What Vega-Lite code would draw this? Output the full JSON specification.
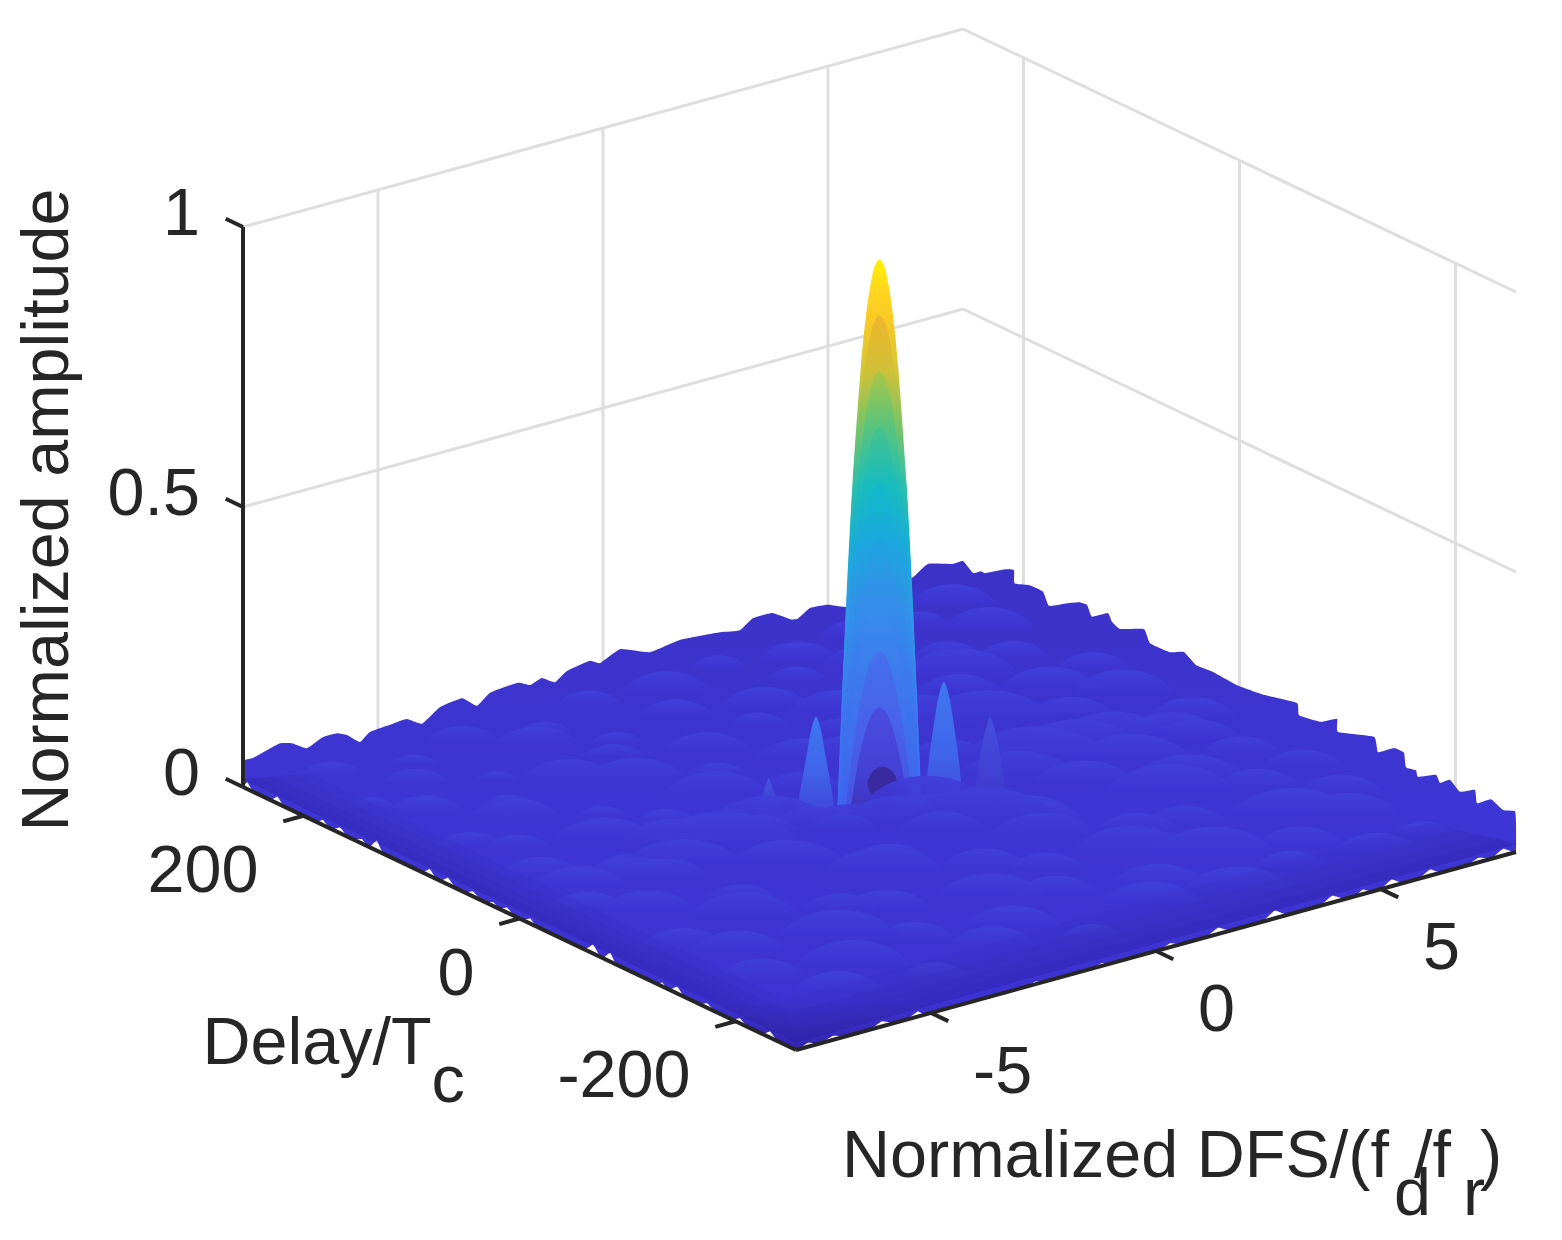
{"$schema":"https://vega.github.io/schema/vega-lite/v6.json","width":1562,"height":1240,"autosize":"none","padding":0,"background":"white","config":{"view":{"stroke":null},"text":{"font":"Liberation Sans","fontSize":66.5,"color":"#262626"}},
"data":{"values":[
{"k":"w","g":"z1","d":256,"f":-8,"a":1},{"k":"w","g":"z1","d":256,"f":8,"a":1},{"k":"w","g":"z1","d":-256,"f":8,"a":1},
{"k":"w","g":"z5","d":256,"f":-8,"a":0.5},{"k":"w","g":"z5","d":256,"f":8,"a":0.5},{"k":"w","g":"z5","d":-256,"f":8,"a":0.5},
{"k":"w","g":"f-5","d":256,"f":-5,"a":0},{"k":"w","g":"f-5","d":256,"f":-5,"a":1},{"k":"w","g":"f0","d":256,"f":0,"a":0},{"k":"w","g":"f0","d":256,"f":0,"a":1},{"k":"w","g":"f5","d":256,"f":5,"a":0},{"k":"w","g":"f5","d":256,"f":5,"a":1},
{"k":"w","g":"d200","d":200,"f":8,"a":0},{"k":"w","g":"d200","d":200,"f":8,"a":1},{"k":"w","g":"d0","d":0,"f":8,"a":0},{"k":"w","g":"d0","d":0,"f":8,"a":1},{"k":"w","g":"d-200","d":-200,"f":8,"a":0},{"k":"w","g":"d-200","d":-200,"f":8,"a":1},

{"k":"o","d":256,"f":-8,"a":0.048},{"k":"o","d":256,"f":-7.78,"a":0.047},{"k":"o","d":256,"f":-7.47,"a":0.054},{"k":"o","d":256,"f":-7.18,"a":0.06},{"k":"o","d":256,"f":-6.91,"a":0.054},{"k":"o","d":256,"f":-6.58,"a":0.038},{"k":"o","d":256,"f":-6.22,"a":0.05},{"k":"o","d":256,"f":-5.91,"a":0.05},{"k":"o","d":256,"f":-5.69,"a":0.042},{"k":"o","d":256,"f":-5.4,"a":0.023},{"k":"o","d":256,"f":-5.18,"a":0.036},{"k":"o","d":256,"f":-4.73,"a":0.039},{"k":"o","d":256,"f":-4.36,"a":0.041},{"k":"o","d":256,"f":-4.02,"a":0.025},{"k":"o","d":256,"f":-3.62,"a":0.046},{"k":"o","d":256,"f":-3.13,"a":0.051},{"k":"o","d":256,"f":-2.8,"a":0.03},{"k":"o","d":256,"f":-2.51,"a":0.047},{"k":"o","d":256,"f":-1.89,"a":0.051},{"k":"o","d":256,"f":-1.62,"a":0.041},{"k":"o","d":256,"f":-1.36,"a":0.048},{"k":"o","d":256,"f":-1.07,"a":0.034},{"k":"o","d":256,"f":-0.8,"a":0.048},{"k":"o","d":256,"f":-0.29,"a":0.055},{"k":"o","d":256,"f":-0.07,"a":0.046},{"k":"o","d":256,"f":0.38,"a":0.061},{"k":"o","d":256,"f":1.04,"a":0.041},{"k":"o","d":256,"f":1.71,"a":0.048},{"k":"o","d":256,"f":2.6,"a":0.042},{"k":"o","d":256,"f":3.04,"a":0.036},{"k":"o","d":256,"f":3.33,"a":0.051},{"k":"o","d":256,"f":3.76,"a":0.051},{"k":"o","d":256,"f":4.16,"a":0.031},{"k":"o","d":256,"f":4.33,"a":0.028},{"k":"o","d":256,"f":4.6,"a":0.041},{"k":"o","d":256,"f":5,"a":0.038},{"k":"o","d":256,"f":5.42,"a":0.025},{"k":"o","d":256,"f":6.16,"a":0.03},{"k":"o","d":256,"f":6.87,"a":0.045},{"k":"o","d":256,"f":7.22,"a":0.062},{"k":"o","d":256,"f":7.76,"a":0.05},{"k":"o","d":256,"f":8,"a":0.05},
{"k":"o","d":246.7,"f":8,"a":0.037},{"k":"o","d":239.3,"f":8,"a":0.047},{"k":"o","d":235.6,"f":8,"a":0.047},{"k":"o","d":217.1,"f":8,"a":0.071},{"k":"o","d":208.8,"f":8,"a":0.077},{"k":"o","d":208.3,"f":8,"a":0.054},{"k":"o","d":194.9,"f":8,"a":0.063},{"k":"o","d":181.9,"f":8,"a":0.063},{"k":"o","d":176.4,"f":8,"a":0.043},{"k":"o","d":159.7,"f":8,"a":0.063},{"k":"o","d":148.6,"f":8,"a":0.075},{"k":"o","d":141.2,"f":8,"a":0.077},{"k":"o","d":136.6,"f":8,"a":0.06},{"k":"o","d":121.8,"f":8,"a":0.08},{"k":"o","d":118.1,"f":8,"a":0.068},{"k":"o","d":110.6,"f":8,"a":0.062},{"k":"o","d":88.4,"f":8,"a":0.082},{"k":"o","d":82.9,"f":8,"a":0.062},{"k":"o","d":64.4,"f":8,"a":0.063},{"k":"o","d":51.4,"f":8,"a":0.075},{"k":"o","d":40.3,"f":8,"a":0.062},{"k":"o","d":24.5,"f":8,"a":0.064},{"k":"o","d":2.3,"f":8,"a":0.061},{"k":"o","d":-23.6,"f":8,"a":0.067},{"k":"o","d":-53.2,"f":8,"a":0.08},{"k":"o","d":-55.1,"f":8,"a":0.06},{"k":"o","d":-75.4,"f":8,"a":0.067},{"k":"o","d":-90.3,"f":8,"a":0.086},{"k":"o","d":-91.2,"f":8,"a":0.063},{"k":"o","d":-124.5,"f":8,"a":0.085},{"k":"o","d":-128.2,"f":8,"a":0.061},{"k":"o","d":-143,"f":8,"a":0.082},{"k":"o","d":-152.3,"f":8,"a":0.082},{"k":"o","d":-154.1,"f":8,"a":0.058},{"k":"o","d":-163.4,"f":8,"a":0.061},{"k":"o","d":-165.3,"f":8,"a":0.051},{"k":"o","d":-181.9,"f":8,"a":0.07},{"k":"o","d":-185.6,"f":8,"a":0.059},{"k":"o","d":-194.9,"f":8,"a":0.073},{"k":"o","d":-204.1,"f":8,"a":0.06},{"k":"o","d":-218,"f":8,"a":0.076},{"k":"o","d":-219.9,"f":8,"a":0.054},{"k":"o","d":-232.8,"f":8,"a":0.073},{"k":"o","d":-244,"f":8,"a":0.064},{"k":"o","d":-255,"f":8,"a":0.072},{"k":"o","d":-256,"f":8,"a":0.052},
{"k":"o","d":-256,"f":8,"a":0.004},{"k":"o","d":-256,"f":7.93,"a":0.002},{"k":"o","d":-256,"f":7.71,"a":0.012},{"k":"o","d":-256,"f":7.49,"a":0.002},{"k":"o","d":-256,"f":7.38,"a":0.002},{"k":"o","d":-256,"f":7.16,"a":0.008},{"k":"o","d":-256,"f":6.94,"a":0.002},{"k":"o","d":-256,"f":6.31,"a":0.002},{"k":"o","d":-256,"f":6.09,"a":0.011},{"k":"o","d":-256,"f":5.87,"a":0.002},{"k":"o","d":-256,"f":5.46,"a":0.002},{"k":"o","d":-256,"f":5.24,"a":0.012},{"k":"o","d":-256,"f":5.02,"a":0.002},{"k":"o","d":-256,"f":4.75,"a":0.002},{"k":"o","d":-256,"f":4.6,"a":0.008},{"k":"o","d":-256,"f":4.45,"a":0.002},{"k":"o","d":-256,"f":4.16,"a":0.002},{"k":"o","d":-256,"f":3.91,"a":0.012},{"k":"o","d":-256,"f":3.66,"a":0.002},{"k":"o","d":-256,"f":2.9,"a":0.002},{"k":"o","d":-256,"f":2.64,"a":0.014},{"k":"o","d":-256,"f":2.38,"a":0.002},{"k":"o","d":-256,"f":1.63,"a":0.002},{"k":"o","d":-256,"f":1.38,"a":0.011},{"k":"o","d":-256,"f":1.13,"a":0.002},{"k":"o","d":-256,"f":0.5,"a":0.002},{"k":"o","d":-256,"f":0.31,"a":0.007},{"k":"o","d":-256,"f":0.12,"a":0.002},{"k":"o","d":-256,"f":-1,"a":0.002},{"k":"o","d":-256,"f":-1.2,"a":0.005},{"k":"o","d":-256,"f":-1.4,"a":0.002},{"k":"o","d":-256,"f":-2.5,"a":0.002},{"k":"o","d":-256,"f":-2.7,"a":0.005},{"k":"o","d":-256,"f":-2.9,"a":0.002},{"k":"o","d":-256,"f":-5.07,"a":0.002},{"k":"o","d":-256,"f":-5.29,"a":0.009},{"k":"o","d":-256,"f":-5.51,"a":0.002},{"k":"o","d":-256,"f":-5.87,"a":0.002},{"k":"o","d":-256,"f":-6.09,"a":0.009},{"k":"o","d":-256,"f":-6.31,"a":0.002},{"k":"o","d":-256,"f":-6.96,"a":0.002},{"k":"o","d":-256,"f":-7.18,"a":0.007},{"k":"o","d":-256,"f":-7.4,"a":0.002},{"k":"o","d":-256,"f":-7.55,"a":0.002},{"k":"o","d":-256,"f":-7.73,"a":0.007},{"k":"o","d":-256,"f":-7.9,"a":0.002},{"k":"o","d":-256,"f":-8,"a":0},
{"k":"o","d":-238,"f":-8,"a":0.002},{"k":"o","d":-232,"f":-8,"a":0.011},{"k":"o","d":-226,"f":-8,"a":0.002},{"k":"o","d":-210,"f":-8,"a":0.002},{"k":"o","d":-204,"f":-8,"a":0.009},{"k":"o","d":-198,"f":-8,"a":0.002},{"k":"o","d":-180,"f":-8,"a":0.002},{"k":"o","d":-174,"f":-8,"a":0.008},{"k":"o","d":-168,"f":-8,"a":0.002},{"k":"o","d":-152,"f":-8,"a":0.002},{"k":"o","d":-146,"f":-8,"a":0.012},{"k":"o","d":-140,"f":-8,"a":0.002},{"k":"o","d":-136,"f":-8,"a":0.002},{"k":"o","d":-132,"f":-8,"a":0.007},{"k":"o","d":-128,"f":-8,"a":0.002},{"k":"o","d":-90,"f":-8,"a":0.002},{"k":"o","d":-84,"f":-8,"a":0.016},{"k":"o","d":-78,"f":-8,"a":0.002},{"k":"o","d":-74,"f":-8,"a":0.002},{"k":"o","d":-68,"f":-8,"a":0.016},{"k":"o","d":-60,"f":-8,"a":0.002},{"k":"o","d":-16,"f":-8,"a":0.002},{"k":"o","d":-10,"f":-8,"a":0.009},{"k":"o","d":-4,"f":-8,"a":0.002},{"k":"o","d":6,"f":-8,"a":0.002},{"k":"o","d":11.6,"f":-8,"a":0.009},{"k":"o","d":17,"f":-8,"a":0.002},{"k":"o","d":20,"f":-8,"a":0.002},{"k":"o","d":24.5,"f":-8,"a":0.007},{"k":"o","d":30,"f":-8,"a":0.002},{"k":"o","d":37,"f":-8,"a":0.002},{"k":"o","d":43,"f":-8,"a":0.009},{"k":"o","d":49,"f":-8,"a":0.002},{"k":"o","d":60,"f":-8,"a":0.002},{"k":"o","d":66,"f":-8,"a":0.012},{"k":"o","d":72,"f":-8,"a":0.002},{"k":"o","d":78,"f":-8,"a":0.002},{"k":"o","d":83,"f":-8,"a":0.012},{"k":"o","d":90,"f":-8,"a":0.002},{"k":"o","d":126,"f":-8,"a":0.002},{"k":"o","d":132,"f":-8,"a":0.018},{"k":"o","d":138,"f":-8,"a":0.002},{"k":"o","d":142,"f":-8,"a":0.002},{"k":"o","d":146,"f":-8,"a":0.008},{"k":"o","d":152,"f":-8,"a":0.002},{"k":"o","d":160,"f":-8,"a":0.002},{"k":"o","d":166,"f":-8,"a":0.01},{"k":"o","d":172,"f":-8,"a":0.002},{"k":"o","d":177,"f":-8,"a":0.002},{"k":"o","d":182,"f":-8,"a":0.009},{"k":"o","d":188,"f":-8,"a":0.002},{"k":"o","d":218,"f":-8,"a":0.002},{"k":"o","d":224,"f":-8,"a":0.012},{"k":"o","d":230,"f":-8,"a":0.002},{"k":"o","d":247,"f":-8,"a":0.002},{"k":"o","d":252,"f":-8,"a":0.012},{"k":"o","d":256,"f":-8,"a":0},

{"k":"b","d":232,"f":-6.6,"a":0.036},{"k":"b","d":219,"f":-5.1,"a":0.028},{"k":"b","d":228,"f":-3.8,"a":0.042},{"k":"b","d":213,"f":-2.3,"a":0.03},{"k":"b","d":231,"f":-0.9,"a":0.038},{"k":"b","d":222,"f":0.6,"a":0.048},{"k":"b","d":236,"f":2.1,"a":0.03},{"k":"b","d":216,"f":3.4,"a":0.044},{"k":"b","d":229,"f":4.9,"a":0.036},{"k":"b","d":220,"f":6.2,"a":0.032},{"k":"b","d":232,"f":7.2,"a":0.048},
{"k":"b","d":179,"f":-7,"a":0.03},{"k":"b","d":192,"f":-5.7,"a":0.04},{"k":"b","d":171,"f":-4.4,"a":0.026},{"k":"b","d":196,"f":-2.9,"a":0.05},{"k":"b","d":176,"f":-1.6,"a":0.03},{"k":"b","d":188,"f":0,"a":0.042},{"k":"b","d":168,"f":1.5,"a":0.05},{"k":"b","d":193,"f":2.8,"a":0.034},{"k":"b","d":180,"f":4.2,"a":0.058},{"k":"b","d":170,"f":5.6,"a":0.038},{"k":"b","d":190,"f":7,"a":0.05},
{"k":"b","d":153,"f":-6.4,"a":0.044},{"k":"b","d":136,"f":-5,"a":0.03},{"k":"b","d":141,"f":-3.5,"a":0.056},{"k":"b","d":158,"f":-2.1,"a":0.036},{"k":"b","d":130,"f":-0.7,"a":0.052},{"k":"b","d":149,"f":0.9,"a":0.034},{"k":"b","d":132,"f":2.3,"a":0.06},{"k":"b","d":155,"f":3.7,"a":0.036},{"k":"b","d":138,"f":5.1,"a":0.066},{"k":"b","d":147,"f":6.5,"a":0.04},
{"k":"b","d":96,"f":-6.8,"a":0.04},{"k":"b","d":112,"f":-5.4,"a":0.054},{"k":"b","d":90,"f":-4,"a":0.03},{"k":"b","d":117,"f":-2.6,"a":0.06},{"k":"b","d":100,"f":-1.2,"a":0.036},{"k":"b","d":86,"f":0.4,"a":0.058},{"k":"b","d":110,"f":1.8,"a":0.04},{"k":"b","d":95,"f":3.2,"a":0.066},{"k":"b","d":118,"f":4.6,"a":0.05},{"k":"b","d":92,"f":6,"a":0.056},{"k":"b","d":106,"f":7.3,"a":0.04},
{"k":"b","d":76,"f":-6.2,"a":0.04},{"k":"b","d":54,"f":-4.8,"a":0.06},{"k":"b","d":60,"f":-3.3,"a":0.036},{"k":"b","d":72,"f":-1.9,"a":0.062},{"k":"b","d":50,"f":-0.5,"a":0.05},{"k":"b","d":68,"f":1,"a":0.066},{"k":"b","d":44,"f":2.6,"a":0.046},{"k":"b","d":70,"f":4.1,"a":0.076},{"k":"b","d":52,"f":5.5,"a":0.05},{"k":"b","d":62,"f":6.9,"a":0.058},
{"k":"b","d":34,"f":-6.7,"a":0.05},{"k":"b","d":18,"f":-5.2,"a":0.036},{"k":"b","d":28,"f":-3.9,"a":0.062},{"k":"b","d":12,"f":-2.4,"a":0.05},{"k":"b","d":0,"f":3.47,"a":0.09},{"k":"b","d":0,"f":-3.47,"a":0.09},{"k":"b","d":4,"f":4.5,"a":0.076},{"k":"b","d":-6,"f":-4.5,"a":0.07},{"k":"b","d":8,"f":5.4,"a":0.066},{"k":"b","d":-4,"f":-5.6,"a":0.06},{"k":"b","d":-8,"f":6.3,"a":0.06},{"k":"b","d":6,"f":-6.5,"a":0.055},{"k":"b","d":10,"f":7.2,"a":0.05},
{"k":"b","d":-22,"f":-7,"a":0.046},{"k":"b","d":-10,"f":-5,"a":0.05},{"k":"b","d":-27,"f":-2.8,"a":0.05},{"k":"b","d":-8,"f":-1,"a":0.04},{"k":"b","d":-24,"f":1.2,"a":0.046},{"k":"b","d":-12,"f":2.8,"a":0.072},{"k":"b","d":-30,"f":4.9,"a":0.072},{"k":"b","d":-18,"f":6.6,"a":0.05},
{"k":"b","d":-48,"f":-6.3,"a":0.056},{"k":"b","d":-64,"f":-4.6,"a":0.044},{"k":"b","d":-42,"f":-3,"a":0.068},{"k":"b","d":-68,"f":-1.4,"a":0.05},{"k":"b","d":-46,"f":0.3,"a":0.05},{"k":"b","d":-60,"f":1.9,"a":0.056},{"k":"b","d":-40,"f":3.6,"a":0.062},{"k":"b","d":-70,"f":5.2,"a":0.066},{"k":"b","d":-52,"f":6.8,"a":0.046},
{"k":"b","d":-102,"f":-6.8,"a":0.05},{"k":"b","d":-88,"f":-5.1,"a":0.064},{"k":"b","d":-110,"f":-3.5,"a":0.046},{"k":"b","d":-84,"f":-1.9,"a":0.07},{"k":"b","d":-106,"f":-0.2,"a":0.05},{"k":"b","d":-90,"f":1.5,"a":0.062},{"k":"b","d":-114,"f":3,"a":0.05},{"k":"b","d":-82,"f":4.5,"a":0.076},{"k":"b","d":-100,"f":6,"a":0.05},{"k":"b","d":-92,"f":7.2,"a":0.05},
{"k":"b","d":-128,"f":-6.2,"a":0.056},{"k":"b","d":-146,"f":-4.4,"a":0.07},{"k":"b","d":-124,"f":-2.8,"a":0.05},{"k":"b","d":-150,"f":-1.1,"a":0.066},{"k":"b","d":-130,"f":0.6,"a":0.046},{"k":"b","d":-142,"f":2.2,"a":0.07},{"k":"b","d":-122,"f":3.9,"a":0.05},{"k":"b","d":-154,"f":5.5,"a":0.076},{"k":"b","d":-136,"f":7,"a":0.05},
{"k":"b","d":-166,"f":-6.6,"a":0.05},{"k":"b","d":-184,"f":-5,"a":0.064},{"k":"b","d":-170,"f":-3.3,"a":0.046},{"k":"b","d":-190,"f":-1.6,"a":0.056},{"k":"b","d":-164,"f":0,"a":0.05},{"k":"b","d":-188,"f":1.7,"a":0.056},{"k":"b","d":-172,"f":3.3,"a":0.072},{"k":"b","d":-186,"f":4.9,"a":0.05},{"k":"b","d":-168,"f":6.4,"a":0.06},
{"k":"b","d":-208,"f":-5.9,"a":0.05},{"k":"b","d":-222,"f":-4.1,"a":0.04},{"k":"b","d":-205,"f":-2.4,"a":0.05},{"k":"b","d":-226,"f":-0.7,"a":0.036},{"k":"b","d":-210,"f":1,"a":0.06},{"k":"b","d":-224,"f":2.6,"a":0.064},{"k":"b","d":-206,"f":4.2,"a":0.04},{"k":"b","d":-220,"f":5.8,"a":0.05},{"k":"b","d":-212,"f":7,"a":0.036},
{"k":"b","d":18.2,"f":-2,"a":0.07},{"k":"b","d":2.9,"f":-1.37,"a":0.05},{"k":"b","d":-9,"f":-0.87,"a":0.055},{"k":"b","d":-26,"f":-0.17,"a":0.07},{"k":"b","d":-41,"f":0.46,"a":0.075},{"k":"b","d":-55,"f":1.03,"a":0.085},{"k":"b","d":-70,"f":1.66,"a":0.065},{"k":"b","d":-10.6,"f":0.8,"a":0.07},

{"k":"p10","d":14.45,"f":-0.6,"a":0},{"k":"p10","d":14.08,"f":-0.584,"a":0.05},{"k":"p10","d":12.89,"f":-0.535,"a":0.2},{"k":"p10","d":11.2,"f":-0.465,"a":0.4},{"k":"p10","d":9.16,"f":-0.38,"a":0.6},{"k":"p10","d":6.45,"f":-0.268,"a":0.8},{"k":"p10","d":4.58,"f":-0.19,"a":0.9},{"k":"p10","d":2.88,"f":-0.12,"a":0.96},{"k":"p10","d":1.46,"f":-0.061,"a":0.99},{"k":"p10","d":0,"f":0,"a":1},{"k":"p10","d":-1.46,"f":0.061,"a":0.99},{"k":"p10","d":-2.88,"f":0.12,"a":0.96},{"k":"p10","d":-4.58,"f":0.19,"a":0.9},{"k":"p10","d":-6.45,"f":0.268,"a":0.8},{"k":"p10","d":-9.16,"f":0.38,"a":0.6},{"k":"p10","d":-11.2,"f":0.465,"a":0.4},{"k":"p10","d":-12.89,"f":0.535,"a":0.2},{"k":"p10","d":-14.08,"f":0.584,"a":0.05},{"k":"p10","d":-14.45,"f":0.6,"a":0},
{"k":"p9","d":14.35,"f":-0.596,"a":0},{"k":"p9","d":13.98,"f":-0.58,"a":0.05},{"k":"p9","d":12.83,"f":-0.532,"a":0.2},{"k":"p9","d":11.03,"f":-0.458,"a":0.4},{"k":"p9","d":9.03,"f":-0.375,"a":0.6},{"k":"p9","d":7.36,"f":-0.306,"a":0.7},{"k":"p9","d":5.19,"f":-0.215,"a":0.8},{"k":"p9","d":3.29,"f":-0.137,"a":0.86},{"k":"p9","d":1.65,"f":-0.068,"a":0.89},{"k":"p9","d":0,"f":0,"a":0.9},{"k":"p9","d":-1.65,"f":0.068,"a":0.89},{"k":"p9","d":-3.29,"f":0.137,"a":0.86},{"k":"p9","d":-5.19,"f":0.215,"a":0.8},{"k":"p9","d":-7.36,"f":0.306,"a":0.7},{"k":"p9","d":-9.03,"f":0.375,"a":0.6},{"k":"p9","d":-11.03,"f":0.458,"a":0.4},{"k":"p9","d":-12.83,"f":0.532,"a":0.2},{"k":"p9","d":-13.98,"f":0.58,"a":0.05},{"k":"p9","d":-14.35,"f":0.596,"a":0},
{"k":"p8","d":14.25,"f":-0.592,"a":0},{"k":"p8","d":13.91,"f":-0.577,"a":0.05},{"k":"p8","d":12.72,"f":-0.528,"a":0.2},{"k":"p8","d":11.91,"f":-0.494,"a":0.3},{"k":"p8","d":10.65,"f":-0.442,"a":0.4},{"k":"p8","d":9.23,"f":-0.383,"a":0.5},{"k":"p8","d":7.53,"f":-0.313,"a":0.6},{"k":"p8","d":5.33,"f":-0.221,"a":0.7},{"k":"p8","d":3.36,"f":-0.139,"a":0.76},{"k":"p8","d":1.7,"f":-0.07,"a":0.79},{"k":"p8","d":0,"f":0,"a":0.8},{"k":"p8","d":-1.7,"f":0.07,"a":0.79},{"k":"p8","d":-3.36,"f":0.139,"a":0.76},{"k":"p8","d":-5.33,"f":0.221,"a":0.7},{"k":"p8","d":-7.53,"f":0.313,"a":0.6},{"k":"p8","d":-9.23,"f":0.383,"a":0.5},{"k":"p8","d":-10.65,"f":0.442,"a":0.4},{"k":"p8","d":-11.91,"f":0.494,"a":0.3},{"k":"p8","d":-12.72,"f":0.528,"a":0.2},{"k":"p8","d":-13.91,"f":0.577,"a":0.05},{"k":"p8","d":-14.25,"f":0.592,"a":0},
{"k":"p7","d":14.18,"f":-0.589,"a":0},{"k":"p7","d":13.84,"f":-0.575,"a":0.05},{"k":"p7","d":12.49,"f":-0.518,"a":0.2},{"k":"p7","d":11.16,"f":-0.463,"a":0.3},{"k":"p7","d":9.67,"f":-0.401,"a":0.4},{"k":"p7","d":7.91,"f":-0.328,"a":0.5},{"k":"p7","d":5.56,"f":-0.231,"a":0.6},{"k":"p7","d":3.53,"f":-0.146,"a":0.66},{"k":"p7","d":1.76,"f":-0.073,"a":0.69},{"k":"p7","d":0,"f":0,"a":0.7},{"k":"p7","d":-1.76,"f":0.073,"a":0.69},{"k":"p7","d":-3.53,"f":0.146,"a":0.66},{"k":"p7","d":-5.56,"f":0.231,"a":0.6},{"k":"p7","d":-7.91,"f":0.328,"a":0.5},{"k":"p7","d":-9.67,"f":0.401,"a":0.4},{"k":"p7","d":-11.16,"f":0.463,"a":0.3},{"k":"p7","d":-12.49,"f":0.518,"a":0.2},{"k":"p7","d":-13.84,"f":0.575,"a":0.05},{"k":"p7","d":-14.18,"f":0.589,"a":0},
{"k":"p6","d":14.08,"f":-0.584,"a":0},{"k":"p6","d":13.06,"f":-0.542,"a":0.1},{"k":"p6","d":11.67,"f":-0.484,"a":0.2},{"k":"p6","d":10.11,"f":-0.42,"a":0.3},{"k":"p6","d":8.25,"f":-0.342,"a":0.4},{"k":"p6","d":5.84,"f":-0.242,"a":0.5},{"k":"p6","d":3.7,"f":-0.153,"a":0.56},{"k":"p6","d":1.83,"f":-0.076,"a":0.59},{"k":"p6","d":0,"f":0,"a":0.6},{"k":"p6","d":-1.83,"f":0.076,"a":0.59},{"k":"p6","d":-3.7,"f":0.153,"a":0.56},{"k":"p6","d":-5.84,"f":0.242,"a":0.5},{"k":"p6","d":-8.25,"f":0.342,"a":0.4},{"k":"p6","d":-10.11,"f":0.42,"a":0.3},{"k":"p6","d":-11.67,"f":0.484,"a":0.2},{"k":"p6","d":-13.06,"f":0.542,"a":0.1},{"k":"p6","d":-14.08,"f":0.584,"a":0},
{"k":"p5","d":13.64,"f":-0.566,"a":0},{"k":"p5","d":12.18,"f":-0.505,"a":0.1},{"k":"p5","d":10.55,"f":-0.438,"a":0.2},{"k":"p5","d":8.62,"f":-0.358,"a":0.3},{"k":"p5","d":6.11,"f":-0.253,"a":0.4},{"k":"p5","d":3.87,"f":-0.161,"a":0.46},{"k":"p5","d":1.93,"f":-0.08,"a":0.49},{"k":"p5","d":0,"f":0,"a":0.5},{"k":"p5","d":-1.93,"f":0.08,"a":0.49},{"k":"p5","d":-3.87,"f":0.161,"a":0.46},{"k":"p5","d":-6.11,"f":0.253,"a":0.4},{"k":"p5","d":-8.62,"f":0.358,"a":0.3},{"k":"p5","d":-10.55,"f":0.438,"a":0.2},{"k":"p5","d":-12.18,"f":0.505,"a":0.1},{"k":"p5","d":-13.64,"f":0.566,"a":0},
{"k":"p4","d":12.69,"f":-0.527,"a":0},{"k":"p4","d":10.99,"f":-0.456,"a":0.1},{"k":"p4","d":8.99,"f":-0.373,"a":0.2},{"k":"p4","d":6.34,"f":-0.263,"a":0.3},{"k":"p4","d":4,"f":-0.166,"a":0.36},{"k":"p4","d":2,"f":-0.083,"a":0.39},{"k":"p4","d":0,"f":0,"a":0.4},{"k":"p4","d":-2,"f":0.083,"a":0.39},{"k":"p4","d":-4,"f":0.166,"a":0.36},{"k":"p4","d":-6.34,"f":0.263,"a":0.3},{"k":"p4","d":-8.99,"f":0.373,"a":0.2},{"k":"p4","d":-10.99,"f":0.456,"a":0.1},{"k":"p4","d":-12.69,"f":0.527,"a":0},
{"k":"p3","d":11.88,"f":-0.493,"a":0},{"k":"p3","d":9.7,"f":-0.403,"a":0.1},{"k":"p3","d":6.85,"f":-0.284,"a":0.2},{"k":"p3","d":4.34,"f":-0.18,"a":0.26},{"k":"p3","d":2.17,"f":-0.09,"a":0.29},{"k":"p3","d":0,"f":0,"a":0.3},{"k":"p3","d":-2.17,"f":0.09,"a":0.29},{"k":"p3","d":-4.34,"f":0.18,"a":0.26},{"k":"p3","d":-6.85,"f":0.284,"a":0.2},{"k":"p3","d":-9.7,"f":0.403,"a":0.1},{"k":"p3","d":-11.88,"f":0.493,"a":0},
{"k":"p2","d":10.42,"f":-0.432,"a":0},{"k":"p2","d":7.36,"f":-0.306,"a":0.1},{"k":"p2","d":4.65,"f":-0.193,"a":0.16},{"k":"p2","d":2.34,"f":-0.097,"a":0.19},{"k":"p2","d":0,"f":0,"a":0.2},{"k":"p2","d":-2.34,"f":0.097,"a":0.19},{"k":"p2","d":-4.65,"f":0.193,"a":0.16},{"k":"p2","d":-7.36,"f":0.306,"a":0.1},{"k":"p2","d":-10.42,"f":0.432,"a":0},
{"k":"p1","d":2.71,"f":-0.113,"a":0.044},{"k":"p1","d":4.07,"f":-0.169,"a":0.065},{"k":"p1","d":2.38,"f":-0.099,"a":0.085},{"k":"p1","d":-1.02,"f":0.042,"a":0.094},{"k":"p1","d":-4.41,"f":0.183,"a":0.085},{"k":"p1","d":-6.11,"f":0.253,"a":0.065},{"k":"p1","d":-4.41,"f":0.183,"a":0.044},

{"k":"l1","g":"r","d":6.11,"f":1.176,"a":0},{"k":"l1","g":"r","d":5.6,"f":1.198,"a":0.05},{"k":"l1","g":"r","d":4.41,"f":1.247,"a":0.1},{"k":"l1","g":"r","d":3.05,"f":1.303,"a":0.15},{"k":"l1","g":"r","d":1.7,"f":1.36,"a":0.19},{"k":"l1","g":"r","d":0,"f":1.43,"a":0.214},{"k":"l1","g":"r","d":-1.7,"f":1.5,"a":0.19},{"k":"l1","g":"r","d":-3.05,"f":1.557,"a":0.15},{"k":"l1","g":"r","d":-4.41,"f":1.613,"a":0.1},{"k":"l1","g":"r","d":-5.6,"f":1.662,"a":0.05},{"k":"l1","g":"r","d":-6.11,"f":1.684,"a":0},
{"k":"l1","g":"l","d":6.11,"f":-1.664,"a":0.05},{"k":"l1","g":"l","d":5.6,"f":-1.642,"a":0.075},{"k":"l1","g":"l","d":4.41,"f":-1.593,"a":0.11},{"k":"l1","g":"l","d":3.05,"f":-1.537,"a":0.15},{"k":"l1","g":"l","d":1.7,"f":-1.48,"a":0.19},{"k":"l1","g":"l","d":0,"f":-1.41,"a":0.214},{"k":"l1","g":"l","d":-1.7,"f":-1.34,"a":0.19},{"k":"l1","g":"l","d":-3.05,"f":-1.283,"a":0.15},{"k":"l1","g":"l","d":-4.41,"f":-1.227,"a":0.11},{"k":"l1","g":"l","d":-5.6,"f":-1.178,"a":0.075},{"k":"l1","g":"l","d":-6.11,"f":-1.156,"a":0.05},
{"k":"l2","g":"r","d":5.09,"f":2.249,"a":0},{"k":"l2","g":"r","d":4.07,"f":2.291,"a":0.04},{"k":"l2","g":"r","d":2.71,"f":2.347,"a":0.08},{"k":"l2","g":"r","d":1.36,"f":2.404,"a":0.11},{"k":"l2","g":"r","d":0,"f":2.46,"a":0.128},{"k":"l2","g":"r","d":-1.36,"f":2.516,"a":0.11},{"k":"l2","g":"r","d":-2.71,"f":2.573,"a":0.08},{"k":"l2","g":"r","d":-4.07,"f":2.629,"a":0.04},{"k":"l2","g":"r","d":-5.09,"f":2.671,"a":0},
{"k":"l2","g":"l","d":5.09,"f":-2.671,"a":0.05},{"k":"l2","g":"l","d":4.07,"f":-2.629,"a":0.065},{"k":"l2","g":"l","d":2.71,"f":-2.573,"a":0.09},{"k":"l2","g":"l","d":1.36,"f":-2.516,"a":0.11},{"k":"l2","g":"l","d":0,"f":-2.46,"a":0.128},{"k":"l2","g":"l","d":-1.36,"f":-2.404,"a":0.11},{"k":"l2","g":"l","d":-2.71,"f":-2.347,"a":0.09},{"k":"l2","g":"l","d":-4.07,"f":-2.291,"a":0.065},{"k":"l2","g":"l","d":-5.09,"f":-2.249,"a":0.05},

{"k":"r","g":"r1","d":256,"f":-8,"a":0.014},{"k":"r","g":"r1","d":-256,"f":-8,"a":0.014},{"k":"r","g":"r1","d":-256,"f":8,"a":0.014},{"k":"r","g":"r1","d":-200,"f":7.4,"a":0.014},{"k":"r","g":"r1","d":-200,"f":-6.9,"a":0.014},{"k":"r","g":"r1","d":240,"f":-6.9,"a":0.014},
{"k":"r","g":"r2","d":256,"f":-8,"a":0.014},{"k":"r","g":"r2","d":-256,"f":-8,"a":0.014},{"k":"r","g":"r2","d":-256,"f":8,"a":0.014},{"k":"r","g":"r2","d":-218,"f":7.6,"a":0.014},{"k":"r","g":"r2","d":-218,"f":-7.2,"a":0.014},{"k":"r","g":"r2","d":245,"f":-7.2,"a":0.014},
{"k":"r","g":"r3","d":256,"f":-8,"a":0.014},{"k":"r","g":"r3","d":-256,"f":-8,"a":0.014},{"k":"r","g":"r3","d":-256,"f":8,"a":0.014},{"k":"r","g":"r3","d":-232,"f":7.8,"a":0.014},{"k":"r","g":"r3","d":-232,"f":-7.5,"a":0.014},{"k":"r","g":"r3","d":248,"f":-7.5,"a":0.014},
{"k":"r","g":"r4","d":256,"f":-8,"a":0.014},{"k":"r","g":"r4","d":-256,"f":-8,"a":0.014},{"k":"r","g":"r4","d":-256,"f":8,"a":0.014},{"k":"r","g":"r4","d":-244,"f":7.9,"a":0.014},{"k":"r","g":"r4","d":-244,"f":-7.75,"a":0.014},{"k":"r","g":"r4","d":252,"f":-7.75,"a":0.014},

{"k":"x","g":"z","d":256,"f":-8,"a":0},{"k":"x","g":"z","d":256,"f":-8,"a":1},{"k":"x","g":"dl","d":256,"f":-8,"a":0},{"k":"x","g":"dl","d":-256,"f":-8,"a":0},{"k":"x","g":"df","d":-256,"f":-8,"a":0},{"k":"x","g":"df","d":-256,"f":8,"a":0},
{"k":"x","g":"t1","d":256,"f":-8,"a":1},{"k":"x","g":"t1","d":272,"f":-8,"a":1},{"k":"x","g":"t2","d":256,"f":-8,"a":0.5},{"k":"x","g":"t2","d":272,"f":-8,"a":0.5},{"k":"x","g":"t3","d":256,"f":-8,"a":0},{"k":"x","g":"t3","d":272,"f":-8,"a":0},
{"k":"x","g":"t4","d":200,"f":-8,"a":0},{"k":"x","g":"t4","d":200,"f":-8.45,"a":0},{"k":"x","g":"t5","d":0,"f":-8,"a":0},{"k":"x","g":"t5","d":0,"f":-8.45,"a":0},{"k":"x","g":"t6","d":-200,"f":-8,"a":0},{"k":"x","g":"t6","d":-200,"f":-8.45,"a":0},
{"k":"x","g":"t7","d":-256,"f":-5,"a":0},{"k":"x","g":"t7","d":-272,"f":-5,"a":0},{"k":"x","g":"t8","d":-256,"f":0,"a":0},{"k":"x","g":"t8","d":-272,"f":0,"a":0},{"k":"x","g":"t9","d":-256,"f":5,"a":0},{"k":"x","g":"t9","d":-272,"f":5,"a":0},

{"k":"td","s":"200","d":200,"f":-8,"a":0},{"k":"td","s":"0","d":0,"f":-8,"a":0},{"k":"td","s":"-200","d":-200,"f":-8,"a":0},
{"k":"tf","s":"-5","d":-256,"f":-5,"a":0},{"k":"tf","s":"0","d":-256,"f":0,"a":0},{"k":"tf","s":"5","d":-256,"f":5,"a":0},
{"k":"tz","s":"1","d":256,"f":-8,"a":1},{"k":"tz","s":"0.5","d":256,"f":-8,"a":0.5},{"k":"tz","s":"0","d":256,"f":-8,"a":0},
{"k":"ta","s":"Normalized amplitude","d":256,"f":-8,"a":0.5},
{"k":"tb","s":"Delay/T","d":0,"f":-8,"a":0},{"k":"tc","s":"c","d":0,"f":-8,"a":0},
{"k":"te","s":"Normalized DFS/(f","d":-256,"f":0,"a":0},{"k":"te2","s":"d","d":-256,"f":0,"a":0},{"k":"te3","s":"/f","d":-256,"f":0,"a":0},{"k":"te4","s":"r","d":-256,"f":0,"a":0},{"k":"te5","s":")","d":-256,"f":0,"a":0}
]},
"transform":[
{"calculate":"243+(datum.f+8)*45+(256-datum.d)*1.0801","as":"px"},
{"calculate":"787-12.375*(datum.f+8)+(256-datum.d)*0.5137-560*datum.a","as":"py"},
{"calculate":"787-12.375*(datum.f+8)+(256-datum.d)*0.5137","as":"base"}
],
"encoding":{
"x":{"field":"px","type":"quantitative","axis":null,"scale":{"domain":[0,1562],"nice":false,"zero":false}},
"y":{"field":"py","type":"quantitative","axis":null,"scale":{"domain":[1240,0],"nice":false,"zero":false}}
},
"layer":[
{"transform":[{"filter":"datum.k=='w'"}],"mark":{"type":"line","stroke":"#dedede","strokeWidth":3},"encoding":{"detail":{"field":"g"},"order":{"value":null}}},
{"transform":[{"filter":"datum.k=='o'"}],"mark":{"type":"line","stroke":"transparent","interpolate":"cardinal","tension":0.6,"fill":{"gradient":"linear","x1":0,"y1":0,"x2":0,"y2":1,"stops":[{"offset":0,"color":"#3c32c8"},{"offset":0.5,"color":"#3e36d4"},{"offset":0.9,"color":"#3d33d2"},{"offset":1,"color":"#3226ae"}]}},"encoding":{"order":{"value":null}}},
{"transform":[{"filter":"datum.k=='b' && datum.base<815"}],"mark":{"type":"point","filled":true,"opacity":1,"strokeWidth":0,"shape":"M-1.7 0C-1.6 -0.6 -0.8 -1 0 -1C0.8 -1 1.6 -0.6 1.7 0Z","fill":{"gradient":"linear","x1":0,"y1":0,"x2":0,"y2":1,"stops":[{"offset":0,"color":"#4140da"},{"offset":0.6,"color":"rgba(62,54,212,0.8)"},{"offset":1,"color":"rgba(60,50,205,0)"}]}},"encoding":{"x":{"field":"px","type":"quantitative"},"y":{"field":"base","type":"quantitative"},"size":{"field":"a","type":"quantitative","legend":null,"scale":{"type":"pow","exponent":2,"domain":[0,0.1],"range":[0,12544]}},"order":{"field":"base"}}},
{"transform":[{"filter":"datum.k=='p10'"}],"mark":{"type":"line","stroke":"transparent","interpolate":"cardinal","fill":{"gradient":"linear","x1":0,"y1":0,"x2":0,"y2":1,"stops":[{"offset":0,"color":"#fff200"},{"offset":0.05,"color":"#ffd81e"},{"offset":0.1,"color":"#fbcb24"},{"offset":0.2,"color":"#d4c535"},{"offset":0.27,"color":"#95c555"},{"offset":0.4,"color":"#30c1a4"},{"offset":0.5,"color":"#16b4d0"},{"offset":0.6,"color":"#2ca0e4"},{"offset":0.75,"color":"#3a84ee"},{"offset":1,"color":"#3f68f0"}]}},"encoding":{"order":{"value":null}}},
{"transform":[{"filter":"datum.k=='p9'"}],"mark":{"type":"line","stroke":"transparent","interpolate":"cardinal","fill":{"gradient":"linear","x1":0,"y1":0,"x2":0,"y2":1,"stops":[{"offset":0,"color":"#f0b52b"},{"offset":0.11,"color":"#cfc038"},{"offset":0.2,"color":"#86c45e"},{"offset":0.33,"color":"#30c0a6"},{"offset":0.45,"color":"#16b2d2"},{"offset":0.6,"color":"#2e9ce6"},{"offset":0.75,"color":"#3a84ee"},{"offset":1,"color":"#3f68f0"}]}},"encoding":{"order":{"value":null}}},
{"transform":[{"filter":"datum.k=='p8'"}],"mark":{"type":"line","stroke":"transparent","interpolate":"cardinal","fill":{"gradient":"linear","x1":0,"y1":0,"x2":0,"y2":1,"stops":[{"offset":0,"color":"#a9c645"},{"offset":0.12,"color":"#5ac47c"},{"offset":0.25,"color":"#22beb4"},{"offset":0.38,"color":"#18acd8"},{"offset":0.55,"color":"#3494ea"},{"offset":0.75,"color":"#3b7cee"},{"offset":1,"color":"#3f68f0"}]}},"encoding":{"order":{"value":null}}},
{"transform":[{"filter":"datum.k=='p7'"}],"mark":{"type":"line","stroke":"transparent","interpolate":"cardinal","fill":{"gradient":"linear","x1":0,"y1":0,"x2":0,"y2":1,"stops":[{"offset":0,"color":"#45c28a"},{"offset":0.15,"color":"#16bcc0"},{"offset":0.3,"color":"#1ca8dc"},{"offset":0.45,"color":"#3192e8"},{"offset":0.7,"color":"#3b7aee"},{"offset":1,"color":"#3f66f0"}]}},"encoding":{"order":{"value":null}}},
{"transform":[{"filter":"datum.k=='p6'"}],"mark":{"type":"line","stroke":"transparent","interpolate":"cardinal","fill":{"gradient":"linear","x1":0,"y1":0,"x2":0,"y2":1,"stops":[{"offset":0,"color":"#10bcc8"},{"offset":0.18,"color":"#1ca6de"},{"offset":0.35,"color":"#3092e8"},{"offset":0.6,"color":"#3b78ee"},{"offset":1,"color":"#3f64f0"}]}},"encoding":{"order":{"value":null}}},
{"transform":[{"filter":"datum.k=='p5'"}],"mark":{"type":"line","stroke":"transparent","interpolate":"cardinal","fill":{"gradient":"linear","x1":0,"y1":0,"x2":0,"y2":1,"stops":[{"offset":0,"color":"#1ca4e0"},{"offset":0.2,"color":"#3490ea"},{"offset":0.5,"color":"#3c78ee"},{"offset":1,"color":"#3f62f0"}]}},"encoding":{"order":{"value":null}}},
{"transform":[{"filter":"datum.k=='p4'"}],"mark":{"type":"line","stroke":"transparent","interpolate":"cardinal","fill":{"gradient":"linear","x1":0,"y1":0,"x2":0,"y2":1,"stops":[{"offset":0,"color":"#3690ec"},{"offset":0.4,"color":"#3e78ee"},{"offset":1,"color":"#4060f0"}]}},"encoding":{"order":{"value":null}}},
{"transform":[{"filter":"datum.k=='p3'"}],"mark":{"type":"line","stroke":"transparent","interpolate":"cardinal","fill":{"gradient":"linear","x1":0,"y1":0,"x2":0,"y2":1,"stops":[{"offset":0,"color":"#4470ee"},{"offset":0.5,"color":"#4860ea"},{"offset":1,"color":"#4650e0"}]}},"encoding":{"order":{"value":null}}},
{"transform":[{"filter":"datum.k=='p2'"}],"mark":{"type":"line","stroke":"transparent","interpolate":"cardinal","fill":{"gradient":"linear","x1":0,"y1":0,"x2":0,"y2":1,"stops":[{"offset":0,"color":"#4a4ce2"},{"offset":0.6,"color":"#4440d6"},{"offset":1,"color":"#3c30b8"}]}},"encoding":{"order":{"value":null}}},
{"transform":[{"filter":"datum.k=='p1'"}],"mark":{"type":"line","stroke":"transparent","interpolate":"cardinal","fill":"#3a2aa0"},"encoding":{"order":{"value":null}}},
{"transform":[{"filter":"datum.k=='l1'"}],"mark":{"type":"line","stroke":"transparent","interpolate":"cardinal","fill":{"gradient":"linear","x1":0,"y1":0,"x2":0,"y2":1,"stops":[{"offset":0,"color":"#3f78f0"},{"offset":0.6,"color":"#4064ec"},{"offset":1,"color":"#4048dc"}]}},"encoding":{"detail":{"field":"g"},"order":{"value":null}}},
{"transform":[{"filter":"datum.k=='l2'"}],"mark":{"type":"line","stroke":"transparent","interpolate":"cardinal","fill":{"gradient":"linear","x1":0,"y1":0,"x2":0,"y2":1,"stops":[{"offset":0,"color":"#4450e0"},{"offset":1,"color":"#3f3cd0"}]}},"encoding":{"detail":{"field":"g"},"order":{"value":null}}},
{"transform":[{"filter":"datum.k=='b' && datum.base>=815"}],"mark":{"type":"point","filled":true,"opacity":1,"strokeWidth":0,"shape":"M-1.7 0C-1.6 -0.6 -0.8 -1 0 -1C0.8 -1 1.6 -0.6 1.7 0Z","fill":{"gradient":"linear","x1":0,"y1":0,"x2":0,"y2":1,"stops":[{"offset":0,"color":"#4140da"},{"offset":0.6,"color":"rgba(62,54,212,0.8)"},{"offset":1,"color":"rgba(60,50,205,0)"}]}},"encoding":{"x":{"field":"px","type":"quantitative"},"y":{"field":"base","type":"quantitative"},"size":{"field":"a","type":"quantitative","legend":null,"scale":{"type":"pow","exponent":2,"domain":[0,0.1],"range":[0,12544]}},"order":{"field":"base"}}},
{"transform":[{"filter":"datum.k=='r'"}],"mark":{"type":"line","stroke":"transparent","fill":"#2c20a0","fillOpacity":0.09},"encoding":{"detail":{"field":"g"},"order":{"value":null}}},
{"transform":[{"filter":"datum.k=='x'"}],"mark":{"type":"line","stroke":"#262626","strokeWidth":4},"encoding":{"detail":{"field":"g"},"order":{"value":null}}},
{"transform":[{"filter":"datum.k=='td'"}],"mark":{"type":"text","align":"right","baseline":"middle","dx":-45,"dy":56},"encoding":{"text":{"field":"s"}}},
{"transform":[{"filter":"datum.k=='tf'"}],"mark":{"type":"text","align":"left","baseline":"middle","dx":42,"dy":60},"encoding":{"text":{"field":"s"}}},
{"transform":[{"filter":"datum.k=='tz'"}],"mark":{"type":"text","align":"right","baseline":"middle","dx":-43,"dy":-12},"encoding":{"text":{"field":"s"}}},
{"transform":[{"filter":"datum.k=='ta'"}],"mark":{"type":"text","align":"center","baseline":"middle","angle":270,"dx":-3,"dy":-195},"encoding":{"text":{"field":"s"}}},
{"transform":[{"filter":"datum.k=='tb'"}],"mark":{"type":"text","align":"left","baseline":"middle","dx":-317,"dy":125},"encoding":{"text":{"field":"s"}}},
{"transform":[{"filter":"datum.k=='tc'"}],"mark":{"type":"text","align":"left","baseline":"middle","dx":-88,"dy":163},"encoding":{"text":{"field":"s"}}},
{"transform":[{"filter":"datum.k=='te'"}],"mark":{"type":"text","align":"left","baseline":"middle","dx":-314,"dy":206},"encoding":{"text":{"field":"s"}}},
{"transform":[{"filter":"datum.k=='te2'"}],"mark":{"type":"text","align":"left","baseline":"middle","dx":238,"dy":244},"encoding":{"text":{"field":"s"}}},
{"transform":[{"filter":"datum.k=='te3'"}],"mark":{"type":"text","align":"left","baseline":"middle","dx":258,"dy":206},"encoding":{"text":{"field":"s"}}},
{"transform":[{"filter":"datum.k=='te4'"}],"mark":{"type":"text","align":"left","baseline":"middle","dx":307,"dy":244},"encoding":{"text":{"field":"s"}}},
{"transform":[{"filter":"datum.k=='te5'"}],"mark":{"type":"text","align":"left","baseline":"middle","dx":324,"dy":206},"encoding":{"text":{"field":"s"}}}
]}
